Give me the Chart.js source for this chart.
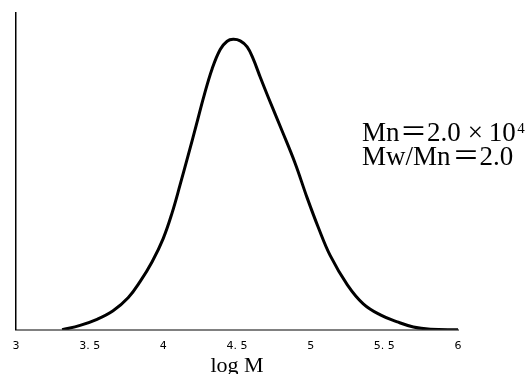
<!DOCTYPE html>
<html>
<head>
<meta charset="utf-8">
<script src="https://cdn.jsdelivr.net/npm/chart.js@4"></script>
<style>
  html, body { margin: 0; padding: 0; background: #fff; }
  #wrap { width: 531px; height: 374px; position: relative; }
</style>
</head>
<body>
<div id="wrap"><canvas id="c" width="531" height="374"></canvas></div>
<script>
// log M positions along the curve
const logM = [3.313, 3.435, 3.550, 3.659, 3.761, 3.842, 3.924, 3.999, 4.060, 4.114, 4.168, 4.223, 4.277, 4.332, 4.386,
              4.433, 4.474, 4.522, 4.569, 4.610, 4.658, 4.712, 4.805, 4.895, 4.975, 5.052, 5.133, 5.249, 5.357,
              5.473, 5.588, 5.697, 5.813, 6.0];
// relative intensity (axis top = 1)
const intensity = [0, 0.014, 0.033, 0.060, 0.101, 0.152, 0.215, 0.288, 0.370, 0.458, 0.550, 0.645, 0.740, 0.825, 0.885,
                   0.911, 0.917, 0.912, 0.893, 0.855, 0.797, 0.734, 0.629, 0.525, 0.418, 0.323, 0.234, 0.142, 0.082,
                   0.047, 0.025, 0.009, 0.002, 0.0];
const xTickValues = [3, 3.5, 4, 4.5, 5, 5.5, 6];
const xTickLabels = ['3', '3. 5', '4', '4. 5', '5', '5. 5', '6'];
const xTitle = 'log M';
// annotation text, split so full-width symbols get a full-width slot
const noteLine1 = ['Mn', '＝', '2.0', '×', '10'];
const noteSup = '4';
const noteLine2 = ['Mw/Mn', '＝', '2.0'];

const points = logM.map((x, i) => ({ x: x, y: intensity[i] }));

const notePlugin = {
  id: 'note',
  afterDraw(chart) {
    const ctx = chart.ctx;
    const a = chart.chartArea;
    const size = 27;
    const font = size + 'px "Liberation Serif", "Noto Sans CJK JP", serif';
    const wide = new Set(['＝', '×']);
    function drawLine(parts, x, y) {
      ctx.font = font;
      let cx = x;
      parts.forEach(p => {
        if (wide.has(p)) {
          const w = ctx.measureText(p).width;
          ctx.fillText(p, cx + (size - w) / 2, y);
          cx += size;
        } else {
          ctx.fillText(p, cx, y);
          cx += ctx.measureText(p).width + 0.5 * (p.length - 1);
        }
      });
      return cx;
    }
    ctx.save();
    ctx.fillStyle = '#000';
    ctx.textBaseline = 'alphabetic';
    ctx.textAlign = 'left';
    const x0 = a.left + 346;
    const end = drawLine(noteLine1, x0, a.top + 128);
    ctx.font = '15px "Liberation Serif", serif';
    ctx.fillText(noteSup, end + 1, a.top + 120);
    drawLine(noteLine2, x0, a.top + 152);
    ctx.restore();
  }
};

new Chart(document.getElementById('c'), {
  type: 'line',
  data: {
    datasets: [{
      data: points,
      borderColor: '#000',
      borderWidth: 3,
      pointRadius: 0,
      fill: false,
      tension: 0.4
    }]
  },
  options: {
    responsive: false,
    animation: false,
    devicePixelRatio: 1,
    layout: { padding: { left: 16, right: 73, top: 13, bottom: 0 } },
    plugins: { legend: { display: false }, tooltip: { enabled: false } },
    scales: {
      x: {
        type: 'linear',
        min: 3, max: 6,
        afterBuildTicks(scale) { scale.ticks = xTickValues.map(v => ({ value: v })); },
        ticks: {
          autoSkip: false,
          maxRotation: 0,
          padding: 10,
          color: '#000',
          font: { family: '"DejaVu Sans", sans-serif', size: 11 },
          callback: (v) => { const i = xTickValues.indexOf(v); return i >= 0 ? xTickLabels[i] : ''; }
        },
        grid: { display: false, drawTicks: false },
        border: { display: true, color: '#808080', width: 2 },
        title: {
          display: true, text: xTitle, color: '#000',
          font: { family: '"Liberation Serif", serif', size: 22, lineHeight: 1 },
          padding: { top: -8, bottom: -3 }
        }
      },
      y: {
        min: 0, max: 1,
        ticks: { display: false },
        grid: { display: false, drawTicks: false },
        border: { display: true, color: '#000', width: 1.5 }
      }
    }
  },
  plugins: [notePlugin]
});
</script>
</body>
</html>
